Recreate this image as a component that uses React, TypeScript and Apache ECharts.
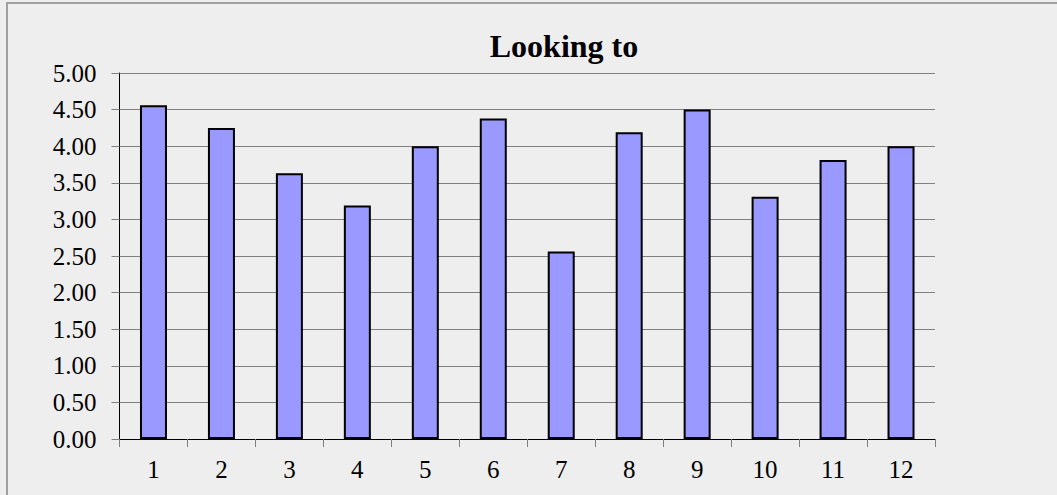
import React, { useEffect, useRef } from "react";
import * as echarts from "echarts";

const categories = ["1", "2", "3", "4", "5", "6", "7", "8", "9", "10", "11", "12"];
const values = [4.56, 4.25, 3.63, 3.19, 4.0, 4.38, 2.56, 4.19, 4.5, 3.31, 3.81, 4.0];
const titleText = "Looking to";

export default function App() {
  const ref = useRef<HTMLDivElement>(null);
  useEffect(() => {
    document.body.style.margin = "0";
    const chart = echarts.init(ref.current!, null, { renderer: "svg" });
    chart.setOption({
      animation: false,
      backgroundColor: "#eeeeee",
      textStyle: { fontFamily: "Liberation Serif" },
      title: {
        text: titleText,
        left: 559,
        textAlign: "center",
        top: 25,
        textStyle: { fontFamily: "Liberation Serif", fontWeight: "bold", fontSize: 32, color: "#000" },
      },
      graphic: [
        {
          type: "rect",
          shape: { x: 7, y: 3, width: 1200, height: 700 },
          style: { fill: "none", stroke: "#a0a0a0", lineWidth: 2 },
          silent: true,
        },
      ],
      grid: { left: 119.5, right: 122, top: 73, bottom: 56 },
      xAxis: {
        type: "category",
        data: categories,
        axisLine: { lineStyle: { color: "#000", width: 1 } },
        axisTick: { show: true, length: 8, lineStyle: { color: "#808080" } },
        axisLabel: { color: "#000", fontSize: 25, fontFamily: "Liberation Serif", margin: 18 },
      },
      yAxis: {
        type: "value",
        min: 0,
        max: 5,
        interval: 0.5,
        axisLine: { show: true, lineStyle: { color: "#000", width: 1 } },
        axisTick: { show: true, length: 8, lineStyle: { color: "#808080" } },
        axisLabel: {
          color: "#000",
          fontSize: 25,
          fontFamily: "Liberation Serif",
          margin: 23,
          formatter: (v: number) => v.toFixed(2),
        },
        splitLine: { show: true, lineStyle: { color: "#808080", width: 1 } },
      },
      series: [
        {
          type: "bar",
          data: values,
          barWidth: 27,
          itemStyle: { color: "#9999ff", borderColor: "#000", borderWidth: 2 },
        },
      ],
    });
    return () => chart.dispose();
  }, []);
  return <div ref={ref} style={{ width: 1057, height: 495 }} />;
}
